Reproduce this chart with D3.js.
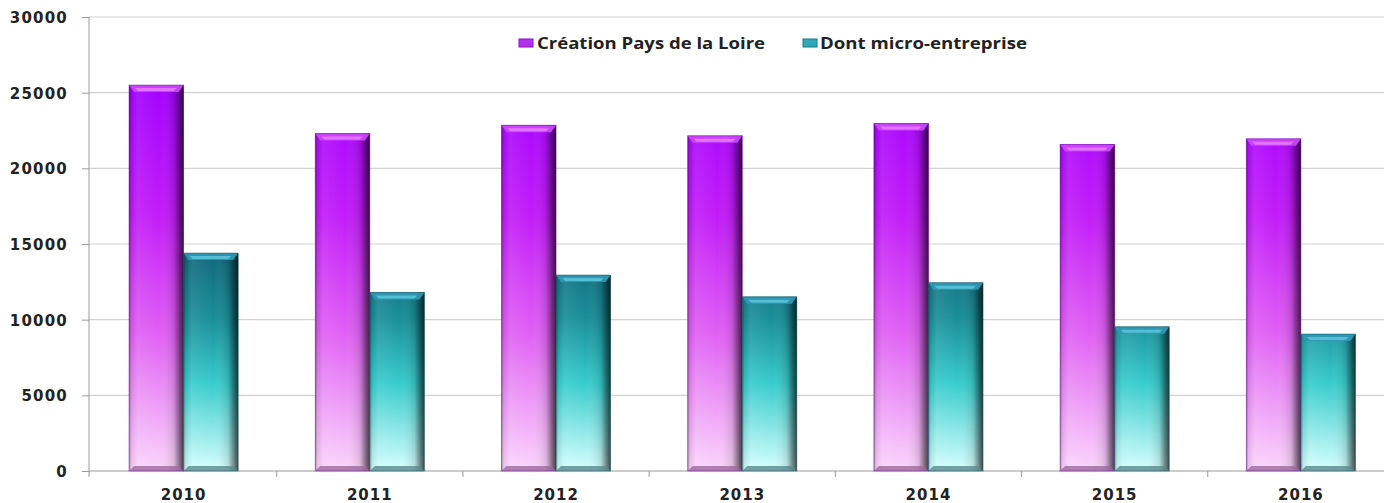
<!DOCTYPE html>
<html><head><meta charset="utf-8">
<script src="https://cdn.jsdelivr.net/npm/d3@7"></script>
<style>html,body{margin:0;padding:0;background:#fff;overflow:hidden}</style>
</head><body>
<svg id="chart" width="1384" height="503"></svg>
<script>
const years = ["2010","2011","2012","2013","2014","2015","2016"];
const seriesNames = ["Création Pays de la Loire","Dont micro-entreprise"];
const creation = [25500,22300,22850,22150,22970,21580,21950];
const micro = [14400,11800,12950,11510,12440,9530,9050];
const yTicks = [0,5000,10000,15000,20000,25000,30000];

const svg = d3.select("#chart");
const W = 1384, H = 503;
const pL = 89, pR = 1394, pT = 17, pB = 471;

const x = d3.scaleBand().domain(years).range([pL + 1.5, pR]).paddingInner(0).paddingOuter(0);
const x1 = d3.scaleBand().domain([0,1]).range([x.bandwidth()*0.207, x.bandwidth()*0.793]).padding(0);
const y = d3.scaleLinear().domain([0,30000]).range([pB, pT]);

const defs = svg.append("defs");
const gP = defs.append("linearGradient").attr("id","gP").attr("x1",0).attr("x2",0)
  .attr("gradientUnits","userSpaceOnUse").attr("y1",y(26000)).attr("y2",pB);
[[0,"#a000ff"],[0.35,"#c21cf8"],[0.65,"#e060f4"],[1,"#fbd6fb"]].forEach(s=>gP.append("stop").attr("offset",s[0]).attr("stop-color",s[1]));
const gT = defs.append("linearGradient").attr("id","gT").attr("x1",0).attr("x2",0)
  .attr("gradientUnits","userSpaceOnUse").attr("y1",y(14500)).attr("y2",pB);
[[0,"#11667a"],[0.3,"#1a8e98"],[0.6,"#38cccc"],[1,"#d8ffff"]].forEach(s=>gT.append("stop").attr("offset",s[0]).attr("stop-color",s[1]));
const hs = defs.append("linearGradient").attr("id","hShade").attr("x1",0).attr("x2",1).attr("y1",0).attr("y2",0);
[[0,"rgba(0,0,0,0.35)"],[0.04,"rgba(0,0,0,0.08)"],[0.15,"rgba(255,255,255,0.08)"],[0.55,"rgba(255,255,255,0)"],[0.82,"rgba(0,0,0,0.12)"],[0.92,"rgba(0,0,0,0.45)"],[1,"rgba(0,0,0,0.7)"]]
  .forEach(s=>hs.append("stop").attr("offset",s[0]).attr("stop-color",s[1]));

// grid
svg.append("g").selectAll("line").data(yTicks.filter(d=>d>0)).join("line")
  .attr("x1",pL).attr("x2",W).attr("y1",d=>y(d)).attr("y2",d=>y(d))
  .attr("stroke","#d2d2d2").attr("stroke-width",1.2);

// y axis
const yAxis = d3.axisLeft(y).tickValues(yTicks).tickSize(7).tickPadding(14).tickFormat(d3.format("d"));
const ya = svg.append("g").attr("transform",`translate(${pL},0)`).call(yAxis);
ya.select(".domain").attr("stroke","#9a9a9a").attr("d",`M0,${pT}V${pB+6}`);
ya.selectAll(".tick line").attr("stroke","#9a9a9a");
ya.selectAll(".tick text").attr("font-family","DejaVu Sans").attr("font-weight","bold").attr("font-size",15)
  .attr("letter-spacing","1.2px").attr("fill","#222").attr("dy","0.36em");

// x axis
const xa = svg.append("g").attr("transform",`translate(0,${pB})`);
xa.append("line").attr("x1",pL).attr("x2",W).attr("stroke","#9a9a9a").attr("stroke-width",1.2);
xa.selectAll(".sep").data(years.slice(1)).join("line").attr("class","sep")
  .attr("x1",d=>x(d)).attr("x2",d=>x(d)).attr("y1",0).attr("y2",6).attr("stroke","#9a9a9a");
xa.selectAll(".lab").data(years).join("text").attr("class","lab")
  .attr("x",d=>x(d)+x.bandwidth()/2).attr("y",29).attr("text-anchor","middle")
  .attr("font-family","DejaVu Sans").attr("font-weight","bold").attr("font-size",15)
  .attr("letter-spacing","1px").attr("fill","#222").text(d=>d);

// bars
const data = [];
years.forEach((yr,i)=>{ data.push({yr, s:0, v:creation[i]}); data.push({yr, s:1, v:micro[i]}); });
const bars = svg.append("g").selectAll("g").data(data).join("g")
  .attr("transform",d=>`translate(${x(d.yr)+x1(d.s)},0)`);
const bw = x1.bandwidth();
bars.append("rect").attr("x",0).attr("width",bw).attr("y",d=>y(d.v)).attr("height",d=>pB-y(d.v))
  .attr("fill",d=>d.s===0?"url(#gP)":"url(#gT)");
bars.append("rect").attr("x",0).attr("width",bw).attr("y",d=>y(d.v)).attr("height",d=>pB-y(d.v))
  .attr("fill","url(#hShade)");
bars.append("path").attr("d",d=>{const t=y(d.v);return `M0,${t}H${bw}L${bw-5},${t+7}H5Z`;})
  .attr("fill",d=>d.s===0?"#cc44ff":"#2f98b4").attr("opacity",0.95);
bars.append("path").attr("d",d=>{const t=y(d.v);return `M6,${t+3}H${bw-7}L${bw-10},${t+6}H9Z`;})
  .attr("fill",d=>d.s===0?"#e87cff":"#5cc4dc").attr("opacity",0.85);
bars.append("path").attr("d",`M0,${pB}H${bw}L${bw-5},${pB-5}H5Z`)
  .attr("fill",d=>d.s===0?"#9a6a9a":"#5a8a8c").attr("opacity",0.8);
bars.append("rect").attr("x",0).attr("width",bw).attr("y",d=>y(d.v)).attr("height",d=>pB-y(d.v))
  .attr("fill","none").attr("stroke",d=>d.s===0?"#6a00a8":"#0d4a55").attr("stroke-width",0.8).attr("stroke-opacity",0.6);

// legend
const legend = [
  {name: seriesNames[0], sx:519, tx:537, tw:228, c1:"#b030f0", c2:"#8a10d0"},
  {name: seriesNames[1], sx:803, tx:820, tw:207, c1:"#30a8b8", c2:"#187a88"}
];
const lg = svg.append("g").selectAll("g").data(legend).join("g");
lg.append("rect").attr("x",d=>d.sx).attr("y",39).attr("width",14).attr("height",8).attr("fill",d=>d.c1).attr("stroke",d=>d.c2).attr("stroke-width",1);
lg.append("text").attr("x",d=>d.tx).attr("y",49).attr("font-family","Open Sans").attr("font-weight","bold")
  .attr("font-size",16).attr("fill","#222").attr("textLength",d=>d.tw).attr("lengthAdjust","spacingAndGlyphs").text(d=>d.name);
</script>
</body></html>
